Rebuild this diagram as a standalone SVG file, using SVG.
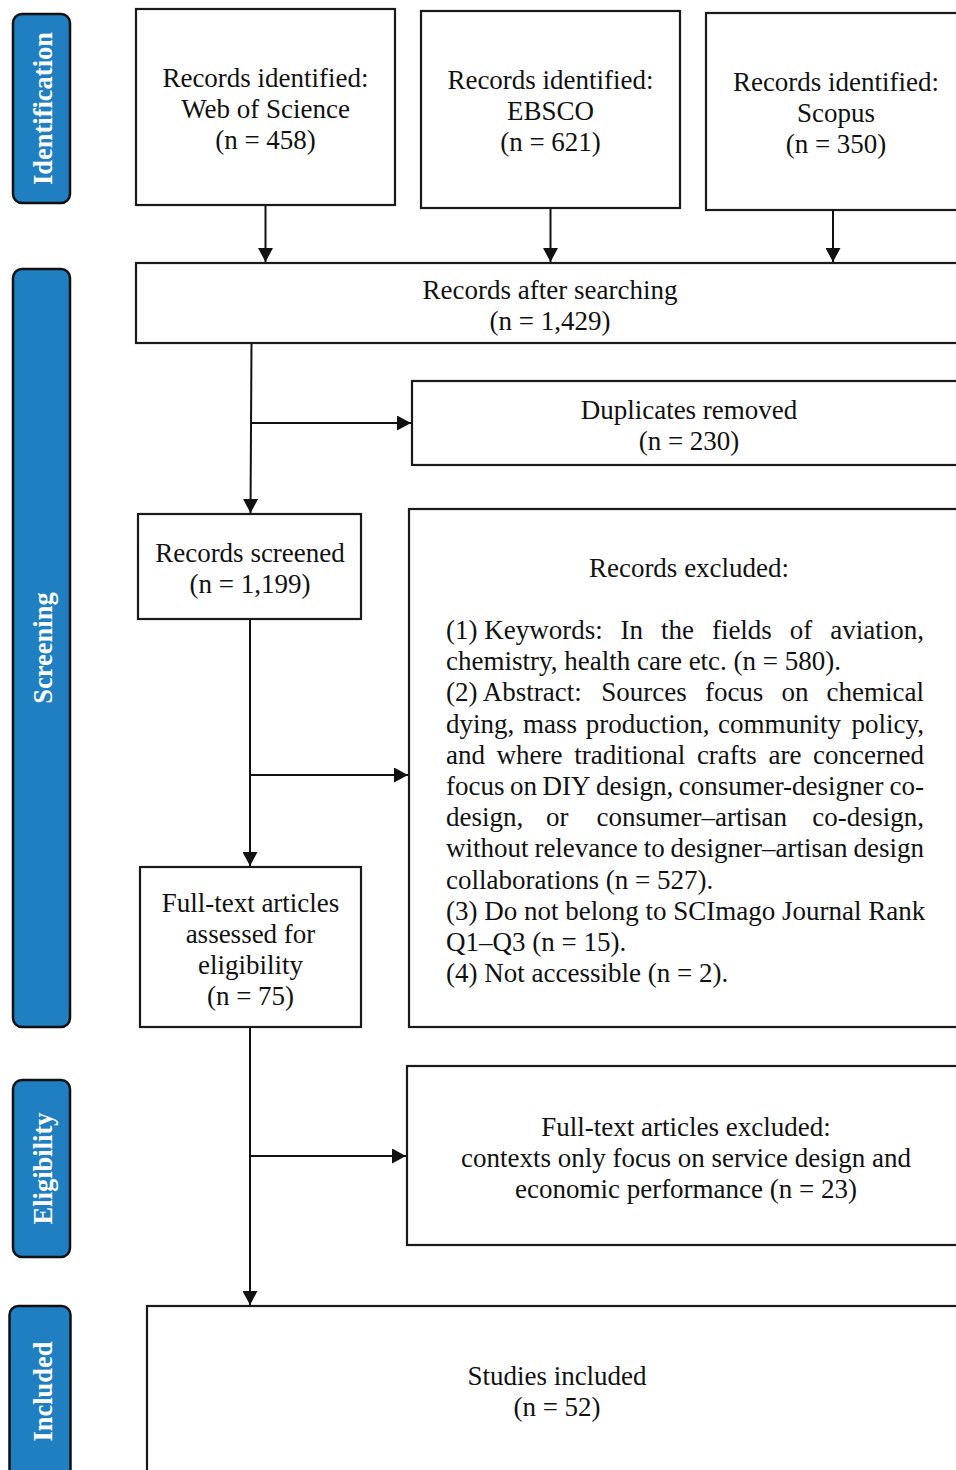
<svg xmlns="http://www.w3.org/2000/svg" width="956" height="1470" viewBox="0 0 956 1470">
<style>
.box{fill:#fff;stroke:#1a1a1a;stroke-width:2.2}
.side{fill:#1f7fc1;stroke:#111;stroke-width:2.5}
.t{font-family:"Liberation Serif","Times New Roman",serif;font-size:27px;fill:#111}
.c{text-anchor:middle}
.e{text-anchor:end}
.lab{font-family:"Liberation Serif","Times New Roman",serif;font-size:26.5px;font-weight:bold;fill:#fff;text-anchor:middle}
.conn{fill:none;stroke:#111;stroke-width:2}
</style>
<defs>
<marker id="arr" markerUnits="userSpaceOnUse" markerWidth="15" markerHeight="15" refX="14" refY="7.5" orient="auto" viewBox="0 0 15 15">
<path d="M0,0 L14,7.5 L0,15 z" fill="#111"/>
</marker>
</defs>
<rect width="956" height="1470" fill="#fff"/>

<g id="label-identification">
<rect class="side" x="13" y="14" width="57" height="189" rx="9"/>
<text class="lab" transform="translate(52,108.5) rotate(-90)">Identification</text>
</g>
<g id="label-screening">
<rect class="side" x="13" y="269" width="57" height="758" rx="9"/>
<text class="lab" transform="translate(52,648) rotate(-90)">Screening</text>
</g>
<g id="label-eligibility">
<rect class="side" x="13" y="1080" width="57" height="177" rx="9"/>
<text class="lab" transform="translate(52,1168.5) rotate(-90)">Eligibility</text>
</g>
<g id="label-included">
<rect class="side" x="9.5" y="1306" width="61" height="180" rx="9"/>
<text class="lab" transform="translate(51.5,1391.5) rotate(-90)">Included</text>
</g>

<g id="connectors">
<path class="conn" d="M265.5,205 V262" marker-end="url(#arr)"/>
<path class="conn" d="M550.5,208 V262" marker-end="url(#arr)"/>
<path class="conn" d="M833,210 V262" marker-end="url(#arr)"/>
<path class="conn" d="M251.5,343 L250.5,513" marker-end="url(#arr)"/>
<path class="conn" d="M251,423 H411" marker-end="url(#arr)"/>
<path class="conn" d="M250,619 V866" marker-end="url(#arr)"/>
<path class="conn" d="M250,775 H408" marker-end="url(#arr)"/>
<path class="conn" d="M250,1027 V1305" marker-end="url(#arr)"/>
<path class="conn" d="M250,1156 H406" marker-end="url(#arr)"/>
</g>

<g id="wos">
<rect class="box" x="136" y="9" width="259" height="196"/>
<text class="t c" x="265.5" y="87">Records identified:</text>
<text class="t c" x="265.5" y="118">Web of Science</text>
<text class="t c" x="265.5" y="149">(n = 458)</text>
</g>
<g id="ebsco">
<rect class="box" x="421" y="11" width="259" height="197"/>
<text class="t c" x="550.5" y="89">Records identified:</text>
<text class="t c" x="550.5" y="120">EBSCO</text>
<text class="t c" x="550.5" y="151">(n = 621)</text>
</g>
<g id="scopus">
<rect class="box" x="706" y="13" width="260" height="197"/>
<text class="t c" x="836" y="91">Records identified:</text>
<text class="t c" x="836" y="122">Scopus</text>
<text class="t c" x="836" y="153">(n = 350)</text>
</g>
<g id="after-searching">
<rect class="box" x="136" y="263" width="830" height="80"/>
<text class="t c" x="550" y="299">Records after searching</text>
<text class="t c" x="550" y="330">(n = 1,429)</text>
</g>
<g id="duplicates">
<rect class="box" x="412" y="381" width="554" height="84"/>
<text class="t c" x="689" y="419">Duplicates removed</text>
<text class="t c" x="689" y="450">(n = 230)</text>
</g>
<g id="screened">
<rect class="box" x="138" y="514" width="223" height="105"/>
<text class="t c" x="250" y="562">Records screened</text>
<text class="t c" x="250" y="593">(n = 1,199)</text>
</g>
<g id="excluded">
<rect class="box" x="409" y="509" width="557" height="518"/>
<text class="t c" x="689" y="577">Records excluded:</text>
<text class="t" y="639"><tspan x="446">(1) Keywords:</tspan><tspan x="620.6">In</tspan><tspan x="661">the</tspan><tspan x="711.9">fields</tspan><tspan x="789.8">of</tspan></text>
<text class="t e" x="924" y="639">aviation,</text>
<text class="t" x="446" y="670.2">chemistry, health care etc. (n = 580).</text>
<text class="t" y="701.4"><tspan x="446">(2) Abstract:</tspan><tspan x="601.3">Sources</tspan><tspan x="704.9">focus</tspan><tspan x="781.5">on</tspan></text>
<text class="t e" x="924" y="701.4">chemical</text>
<text class="t" y="732.6"><tspan x="446">dying,</tspan><tspan x="523">mass</tspan><tspan x="585.7">production,</tspan><tspan x="718.1">community</tspan></text>
<text class="t e" x="924" y="732.6">policy,</text>
<text class="t" y="763.8"><tspan x="446">and</tspan><tspan x="496.6">where</tspan><tspan x="574.2">traditional</tspan><tspan x="696.9">crafts</tspan><tspan x="768.5">are</tspan></text>
<text class="t e" x="924" y="763.8">concerned</text>
<text class="t" y="795"><tspan x="446">focus</tspan><tspan x="510">on</tspan><tspan x="542.5">DIY</tspan><tspan x="596">design,</tspan><tspan x="678.7">consumer-designer</tspan></text>
<text class="t e" x="924" y="795">co-</text>
<text class="t" y="826.2"><tspan x="446">design,</tspan><tspan x="546">or</tspan><tspan x="596.5">consumer–artisan</tspan></text>
<text class="t e" x="924" y="826.2">co-design,</text>
<text class="t" y="857.4"><tspan x="446">without</tspan><tspan x="534.4">relevance</tspan><tspan x="643.7">to</tspan><tspan x="670.6">designer–artisan</tspan></text>
<text class="t e" x="924" y="857.4">design</text>
<text class="t" x="446" y="888.6">collaborations (n = 527).</text>
<text class="t" x="446" y="919.8">(3) Do not belong to SCImago Journal Rank</text>
<text class="t" x="446" y="951">Q1–Q3 (n = 15).</text>
<text class="t" x="446" y="982.2">(4) Not accessible (n = 2).</text>
</g>
<g id="fulltext">
<rect class="box" x="140" y="867" width="221" height="160"/>
<text class="t c" x="250.5" y="912">Full-text articles</text>
<text class="t c" x="250.5" y="943">assessed for</text>
<text class="t c" x="250.5" y="974">eligibility</text>
<text class="t c" x="250.5" y="1005">(n = 75)</text>
</g>
<g id="fulltext-excluded">
<rect class="box" x="407" y="1066" width="559" height="179"/>
<text class="t c" x="686" y="1136">Full-text articles excluded:</text>
<text class="t c" x="686" y="1167">contexts only focus on service design and</text>
<text class="t c" x="686" y="1198">economic performance (n = 23)</text>
</g>
<g id="included">
<rect class="box" x="147" y="1306" width="819" height="180"/>
<text class="t c" x="557" y="1385">Studies included</text>
<text class="t c" x="557" y="1416">(n = 52)</text>
</g>
</svg>
